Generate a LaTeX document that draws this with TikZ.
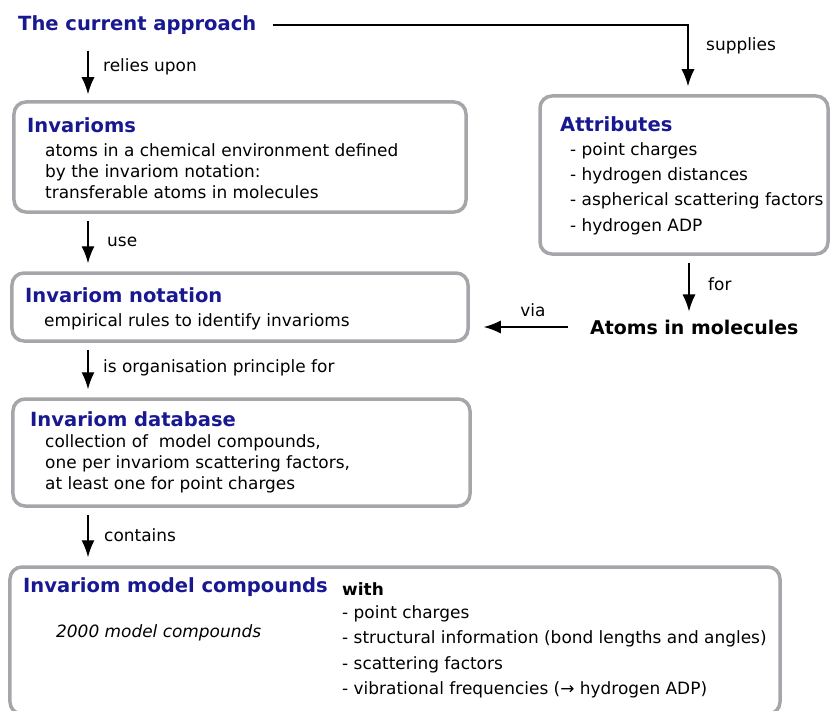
\documentclass[tikz,border=0pt]{standalone}
\usepackage{fontspec}
\setmainfont{DejaVu Sans}
\usetikzlibrary{arrows.meta}
\definecolor{titleblue}{RGB}{24,24,145}
\definecolor{boxgray}{RGB}{166,166,170}

\begin{document}
\begin{tikzpicture}[x=1bp,y=-1bp]

		\tikzset{box/.style = {shape=rectangle,draw=boxgray,line width=3.5bp,rounded corners=12bp}}
		\tikzset{title/.style = {anchor=west,inner sep=0pt,text=titleblue,font=\bfseries\fontsize{19.6}{23}\selectfont}}
		\tikzset{body/.style = {anchor=west,inner sep=0pt,align=left,font=\fontsize{17}{21}\selectfont}}
		\tikzset{list/.style = {body,font=\fontsize{17}{25.5}\selectfont}}
		\tikzset{lbl/.style = {anchor=west,inner sep=0pt,font=\fontsize{17}{21}\selectfont}}
		\tikzset{edge/.style = {-{Latex[length=17bp,width=13bp]},line width=1.4bp}}
		\tikzset{gap/.style = {shorten <=7bp,shorten >=8bp}}

		\useasboundingbox (0,0) rectangle (830,711);
		\coordinate (lcol) at (88,0);

		% boxes
		\node[box, minimum width=452bp, minimum height=110bp] (invar) at (240,157) {};
		\node[box, minimum width=288bp, minimum height=158bp] (attr) at (684,175) {};
		\node[box, minimum width=456bp, minimum height=68bp] (notation) at (240,307) {};
		\node[box, minimum width=457bp, minimum height=107bp] (database) at (241.5,452.5) {};
		\node[box, minimum width=770bp, minimum height=147bp] (model) at (395,640.5) {};

		% texts
		\node[title] (approach) at (18,25) {The current approach};
		\node[title] (invartitle) at (27,125) {Invarioms};
		\node[body] (invartext) at (45,171) {atoms in a chemical environment defined\\by the invariom notation:\\transferable atoms in molecules};
		\node[title] (attrtitle) at (560,124) {Attributes};
		\node[list] (attrtext) at (570,188.5) {- point charges\\- hydrogen distances\\- aspherical scattering factors\\- hydrogen ADP};
		\node[title, text=black, font=\bfseries\fontsize{19}{23}\selectfont] (atoms) at (590,327) {Atoms in molecules};
		\node[title] (nottitle) at (25,295) {Invariom notation};
		\node[body] (nottext) at (44,322) {empirical rules to identify invarioms};
		\node[title] (dbtitle) at (30,419) {Invariom database};
		\node[body] (dbtext) at (45,464) {collection of\ \ model compounds,\\one per invariom scattering factors,\\at least one for point charges};
		\node[title] (modeltitle) at (23,587) {Invariom model compounds};
		\node[body, font=\bfseries\fontsize{17}{21}\selectfont] (with) at (342,589) {with};
		\node[body, font=\itshape\fontsize{17}{21}\selectfont] (count) at (56,633) {2000 model compounds};
		\node[list] (modeltext) at (342,652) {- point charges\\- structural information (bond lengths and angles)\\- scattering factors\\- vibrational frequencies (→ hydrogen ADP)};

		% labels
		\node[lbl] (relies) at (103,67) {relies upon};
		\node[lbl] (supplies) at (706,46) {supplies};
		\node[lbl] (use) at (107,242) {use};
		\node[lbl] (for) at (708,284) {for};
		\node[lbl, anchor=center] (via) at (533,310) {via};
		\node[lbl] (principle) at (103,368) {is organisation principle for};
		\node[lbl] (contains) at (104,535) {contains};

		%edges
		\draw[edge, shorten <=16bp, shorten >=6bp] (approach.south -| lcol) to (invar.north -| lcol);

		\draw[edge] ([xshift=16bp]approach.east) -| ([xshift=4bp,yshift=8bp]attr.north);

		\draw[edge, gap] (invar.south -| lcol) to (notation.north -| lcol);

		\draw[edge, gap] ([xshift=5bp]attr.south) to ([xshift=5bp]attr.south |- atoms.north);

		\draw[edge, shorten <=22bp, shorten >=14bp] (atoms.west) to (notation.east |- atoms.west);

		\draw[edge, gap] (notation.south -| lcol) to (database.north -| lcol);

		\draw[edge, gap] (database.south -| lcol) to (model.north -| lcol);

\end{tikzpicture}
\end{document}
